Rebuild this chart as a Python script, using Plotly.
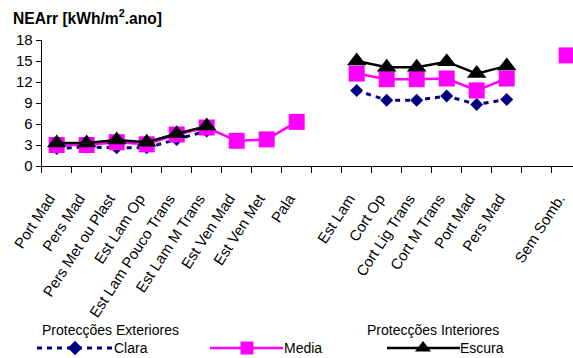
import plotly.graph_objects as go

# ---- data ----
categories = ["Port Mad", "Pers Mad", "Pers Met ou Plast", "Est Lam Op",
              "Est Lam Pouco Trans", "Est Lam M Trans", "Est Ven Mad",
              "Est Ven Met", "Pala", "", "Est Lam", "Cort Op",
              "Cort Lig Trans", "Cort M Trans", "Port Mad", "Pers Mad",
              "", "Sem Somb."]
clara = [2.5, 2.7, 2.6, 2.6, 3.8, 5.0, None, None, None, None,
         10.8, 9.4, 9.4, 10.0, 8.8, 9.5, None, None]
media = [3.0, 3.0, 3.4, 3.1, 4.5, 5.5, 3.6, 3.8, 6.3, None,
         13.2, 12.4, 12.4, 12.5, 10.8, 12.5, None, 15.8]
escura = [3.3, 3.3, 3.7, 3.4, 4.6, 5.7, None, None, None, None,
          15.0, 14.1, 14.1, 14.9, 13.2, 14.3, None, None]
y_ticks = [0, 3, 6, 9, 12, 15, 18]
title_text = "NEArr [kWh/m<sup>2</sup>.ano]"
group_labels = ["Protecções Exteriores", "Protecções Interiores"]
series_names = ["Clara", "Media", "Escura"]

W, H = 573, 358
FONT = "Liberation Sans, Arial, sans-serif"
NAVY, MAG, BLK = "#000080", "#FF00FF", "#000000"

xs = list(range(len(categories)))
LABEL_SHIFT = -0.25  # rotated labels sit slightly left of category centre
label_vals = [i + LABEL_SHIFT for i, c in enumerate(categories) if c]
label_text = [c for c in categories if c]

fig = go.Figure()

fig.add_trace(go.Scatter(x=xs, y=clara, mode="lines+markers",
                         line=dict(color=NAVY, width=3, dash="5px,5px"),
                         marker=dict(symbol="diamond", size=10, color=NAVY),
                         connectgaps=False, showlegend=False, cliponaxis=False))
fig.add_trace(go.Scatter(x=xs, y=media, mode="lines+markers",
                         line=dict(color=MAG, width=2.5),
                         marker=dict(symbol="square", size=16, color=MAG),
                         connectgaps=False, showlegend=False, cliponaxis=False))
fig.add_trace(go.Scatter(x=xs, y=escura, mode="lines+markers",
                         line=dict(color=BLK, width=2.5),
                         marker=dict(symbol="triangle-up", size=17, color=BLK),
                         connectgaps=False, showlegend=False, cliponaxis=False))

# ---- custom legend on a pixel-unit overlay axis ----
leg_y = 348
leg_items = [
    (37, 113, 75, NAVY, "diamond", 11, dict(color=NAVY, width=3, dash="5px,5px")),
    (210, 283, 247, MAG, "square", 13, dict(color=MAG, width=2.5)),
    (387, 460, 423, BLK, "triangle-up", 14, dict(color=BLK, width=2.5)),
]
for x0, x1, xm, col, sym, sz, ln in leg_items:
    fig.add_trace(go.Scatter(x=[x0, x1], y=[leg_y, leg_y], mode="lines", line=ln,
                             xaxis="x2", yaxis="y2", showlegend=False,
                             hoverinfo="skip", cliponaxis=False))
    fig.add_trace(go.Scatter(x=[xm], y=[leg_y], mode="markers",
                             marker=dict(symbol=sym, size=sz, color=col),
                             xaxis="x2", yaxis="y2", showlegend=False,
                             hoverinfo="skip", cliponaxis=False))

fig.update_layout(
    template="none",
    width=W, height=H, autosize=False,
    margin=dict(l=0, r=0, t=0, b=0, pad=0, autoexpand=False),
    paper_bgcolor="white", plot_bgcolor="rgba(0,0,0,0)",
    font=dict(family=FONT, color="black", size=15),
    xaxis=dict(domain=[41.7 / W, 1], range=[-0.5, 17.21], automargin=False,
               tickmode="array", tickvals=label_vals, ticktext=label_text,
               tickangle=-57, ticks="outside", ticklen=17,
               tickcolor="rgba(0,0,0,0)", ticklabeloverflow="allow",
               minor=dict(tickmode="linear", tick0=0.5, dtick=1,
                          ticks="outside", ticklen=6, tickcolor="black",
                          showgrid=False),
               showline=True, linecolor="black", linewidth=1,
               showgrid=False, zeroline=False,
               tickfont=dict(size=15, family=FONT), anchor="y"),
    yaxis=dict(domain=[(H - 166) / H, (H - 40) / H], range=[0, 18],
               automargin=False,
               tickmode="array", tickvals=y_ticks,
               ticks="outside", ticklen=5, tickcolor="black",
               showline=True, linecolor="black", linewidth=1,
               showgrid=False, zeroline=False,
               tickfont=dict(size=15, family=FONT), anchor="x"),
    xaxis2=dict(domain=[0, 1], range=[0, W], visible=False, anchor="y2",
                fixedrange=True, automargin=False),
    yaxis2=dict(domain=[0, 1], range=[H, 0], visible=False, anchor="x2",
                fixedrange=True, automargin=False),
    showlegend=False,
)

ann = [
    dict(text="<b>" + title_text + "</b>", x=11 / W, y=(H - 17) / H,
         xanchor="left", yanchor="middle", font=dict(size=15.6)),
    dict(text=group_labels[0], x=40 / W, y=(H - 330) / H,
         xanchor="left", yanchor="middle", font=dict(size=14)),
    dict(text=group_labels[1], x=365 / W, y=(H - 330) / H,
         xanchor="left", yanchor="middle", font=dict(size=14)),
    dict(text=series_names[0], x=112 / W, y=(H - leg_y) / H,
         xanchor="left", yanchor="middle", font=dict(size=14)),
    dict(text=series_names[1], x=282 / W, y=(H - leg_y) / H,
         xanchor="left", yanchor="middle", font=dict(size=14)),
    dict(text=series_names[2], x=458 / W, y=(H - leg_y) / H,
         xanchor="left", yanchor="middle", font=dict(size=14)),
]
for a in ann:
    a.update(xref="paper", yref="paper", showarrow=False)
fig.update_layout(annotations=ann)

fig.write_html("out.html", config={"displayModeBar": False},
               post_script="document.body.style.margin='0';"
                           "document.body.style.overflow='hidden';")
